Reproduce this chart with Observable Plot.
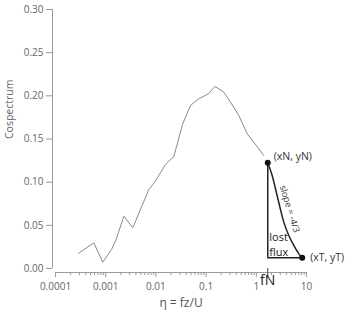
<!DOCTYPE html>
<html>
<head>
<meta charset="utf-8">
<script src="https://cdn.jsdelivr.net/npm/d3@7"></script>
<script src="https://cdn.jsdelivr.net/npm/@observablehq/plot@0.6"></script>
<style>
  html, body { margin: 0; padding: 0; background: #fff; }
</style>
</head>
<body>
<div id="chart"></div>
<script>
// Measured cospectrum
const freq = [2.9e-4, 5.8e-4, 8.75e-4, 1.31e-3, 1.60e-3, 2.30e-3, 3.47e-3, 7.22e-3, 9.38e-3, 0.0155, 0.0228, 0.0339, 0.0489, 0.0716, 0.1117, 0.150, 0.225, 0.306, 0.448, 0.659, 0.892, 1.41];
const cosp = [0.0177, 0.0298, 0.0073, 0.022, 0.033, 0.0606, 0.0472, 0.0915, 0.0997, 0.1205, 0.1298, 0.1669, 0.1889, 0.1966, 0.2024, 0.2109, 0.2043, 0.1927, 0.1773, 0.1561, 0.1463, 0.1309];

// -4/3 slope tail
const tailF = [1.69, 2.07, 2.41, 2.90, 3.53, 4.44, 5.58, 7.03, 8.20];
const tailV = [0.1225, 0.1078, 0.0924, 0.0730, 0.0537, 0.0382, 0.0267, 0.0170, 0.0125];

const xN = 1.69, yN = 0.1225;
const xT = 8.20, yT = 0.0125;

// Axis ticks
const xTicks = [1e-4, 1e-3, 1e-2, 1e-1, 1, 10];
const xTickLabels = ["0.0001", "0.001", "0.01", "0.1", "1", "10"];
const yTicks = [0, 0.05, 0.10, 0.15, 0.20, 0.25, 0.30];
const xMinor = [];
for (let e = -4; e < 1; e++) for (let m = 2; m <= 9; m++) xMinor.push(m * Math.pow(10, e));

const data = freq.map((f, i) => ({f, v: cosp[i]}));
const tail = tailF.map((f, i) => ({f, v: tailV[i]}));

const grey = "#9a9a9a";
const labelGrey = "#666";

const chart = Plot.plot({
  width: 349,
  height: 313,
  marginLeft: 55,
  marginRight: 43,
  marginTop: 9,
  marginBottom: 45,
  style: {fontFamily: "'Open Sans', sans-serif", background: "#fff"},
  x: {type: "log", domain: [1e-4, 10]},
  y: {domain: [0, 0.3]},
  marks: [
    // y axis
    Plot.ruleX([1e-4], {y1: 0, y2: 0.3, dx: -3, stroke: grey}),
    Plot.axisY({ticks: yTicks, tickFormat: d3.format(".2f"), tickSize: 6, tickPadding: 3, dx: -3, stroke: grey, fill: labelGrey, fontSize: 10, label: null}),
    Plot.text(["Cospectrum"], {frameAnchor: "left", dx: -46, rotate: -90, fontSize: 10.5, fill: labelGrey}),
    // x axis
    Plot.ruleY([0], {x1: 1e-4, x2: 10, dy: 4, stroke: grey}),
    Plot.axisX({ticks: xMinor, tickSize: 3, dy: 4, stroke: grey, tickFormat: () => "", label: null}),
    Plot.axisX({ticks: xTicks, tickSize: 5, tickPadding: 5, dy: 4, stroke: grey, fill: labelGrey, fontSize: 10, tickFormat: d => xTickLabels[xTicks.indexOf(d)], label: null}),
    Plot.axisX({ticks: [xN], tickSize: 9, dy: 0, stroke: "#444", tickFormat: () => "", label: null}),
    Plot.text(["fN"], {x: () => xN, frameAnchor: "bottom", dy: 16, fontSize: 14, fill: "#222"}),
    Plot.text(["η = fz/U"], {frameAnchor: "bottom", dy: 38, fontSize: 12, fill: "#555"}),
    // data
    Plot.line(data, {x: "f", y: "v", stroke: "#8a8a8a", strokeWidth: 1}),
    // lost flux annotation
    Plot.ruleX([xN], {y1: yT, y2: yN, stroke: "#222", strokeWidth: 1.5}),
    Plot.ruleY([yT], {x1: xN, x2: xT, stroke: "#222", strokeWidth: 1.5}),
    Plot.line(tail, {x: "f", y: "v", stroke: "#222", strokeWidth: 1.5, curve: "catmull-rom"}),
    Plot.dot([{f: xN, v: yN}, {f: xT, v: yT}], {x: "f", y: "v", r: 3, fill: "#111"}),
    Plot.text([{f: xN, v: yN}], {x: "f", y: "v", text: () => "(xN, yN)", dx: 6, dy: -6, textAnchor: "start", fontSize: 10.5, fill: "#333"}),
    Plot.text([{f: xT, v: yT}], {x: "f", y: "v", text: () => "(xT, yT)", dx: 8, dy: 0, textAnchor: "start", fontSize: 10.5, fill: "#333"}),
    Plot.text(["lost"], {x: () => xN, y: () => 0.036, dx: 1.5, textAnchor: "start", fontSize: 11, fill: "#222"}),
    Plot.text(["flux"], {x: () => xN, y: () => 0.019, dx: 1.5, textAnchor: "start", fontSize: 11, fill: "#222"}),
    Plot.text(["slope = -4/3"], {x: () => 4.6, y: () => 0.069, rotate: 73, fontSize: 9, fill: "#333"})
  ]
});
document.getElementById("chart").appendChild(chart);
</script>
</body>
</html>
